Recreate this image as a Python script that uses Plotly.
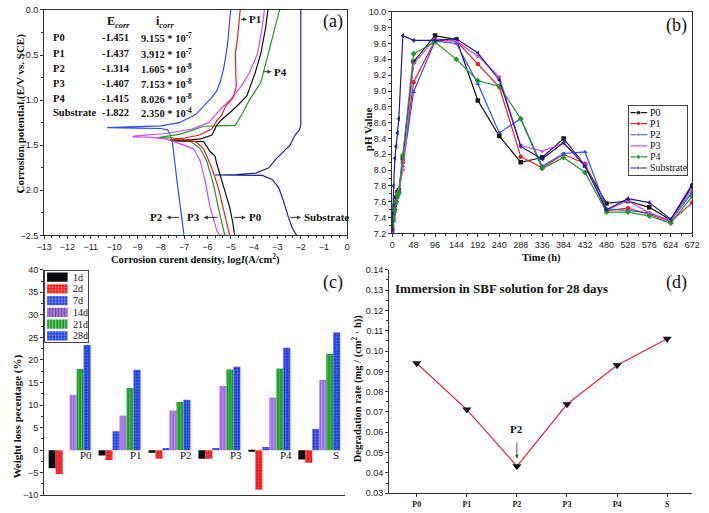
import plotly.graph_objects as go

W, H = 709, 513
SERIF = "Liberation Serif"
SANS = "Liberation Sans"

# ---------------- panel (a): polarization curves (logI, E) ----------------
a_P0_logI = [-3.40, -3.5, -3.71, -3.95, -4.3, -4.7, -5.04, -5.4, -5.6, -5.74, -5.81, -6.3, -6.93, -7.56,
             -6.9, -6.16, -5.88, -5.67, -5.6, -5.46, -5.25, -5.04, -4.90, -4.83]
a_P0_E = [0.0, -0.2, -0.49, -0.7, -0.95, -1.06, -1.14, -1.22, -1.28, -1.35, -1.39, -1.43, -1.445, -1.451,
          -1.455, -1.46, -1.57, -1.62, -1.70, -1.83, -2.01, -2.19, -2.37, -2.5]
a_P1_logI = [-4.59, -4.62, -4.7, -4.8, -4.78, -4.76, -4.9, -5.2, -5.39, -5.6, -5.81, -6.37, -7.0, -7.6,
             -7.0, -6.5, -6.16, -5.81, -5.53, -5.32, -5.11, -5.04]
a_P1_E = [0.0, -0.1, -0.3, -0.49, -0.7, -0.85, -0.98, -1.06, -1.17, -1.23, -1.32, -1.39, -1.42, -1.437,
          -1.44, -1.46, -1.54, -1.75, -1.97, -2.19, -2.41, -2.5]
a_P2_logI = [-5.0, -5.05, -5.12, -5.2, -5.3, -5.45, -5.6, -5.8, -6.1, -6.5, -7.2, -8.0, -9.0, -10.3,
             -9.0, -8.0, -7.7, -7.6, -7.5, -7.4, -7.3, -7.15, -7.0]
a_P2_E = [0.0, -0.15, -0.35, -0.5, -0.65, -0.8, -0.9, -0.97, -1.05, -1.16, -1.25, -1.285, -1.295, -1.305,
          -1.31, -1.315, -1.33, -1.38, -1.46, -1.7, -1.9, -2.2, -2.5]
a_P3_logI = [-3.55, -3.65, -3.85, -4.2, -4.56, -5.07, -5.5, -5.95, -6.65, -7.77, -9.17, -9.2,
             -8.5, -7.8, -7.42, -6.58, -6.30, -6.09, -5.88, -5.60, -5.46]
a_P3_E = [0.0, -0.2, -0.49, -0.7, -0.85, -1.01, -1.12, -1.25, -1.32, -1.37, -1.40, -1.407,
          -1.41, -1.43, -1.46, -1.54, -1.68, -1.90, -2.19, -2.44, -2.5]
a_P4_logI = [-2.90, -3.1, -3.3, -3.5, -3.7, -3.99, -4.2, -4.48, -4.76, -4.8, -5.5, -6.16, -6.6, -7.2, -8.12,
             -7.5, -6.8, -6.30, -6.02, -5.74, -5.53, -5.32, -5.25]
a_P4_E = [0.0, -0.2, -0.4, -0.6, -0.8, -0.92, -1.0, -1.14, -1.26, -1.28, -1.285, -1.29, -1.33, -1.38, -1.415,
          -1.42, -1.44, -1.54, -1.68, -1.93, -2.19, -2.41, -2.5]
a_S_logI = [-1.99, -1.99, -1.99, -2.05, -2.24, -2.45, -2.8, -3.08, -3.36, -3.92, -4.76, -5.67,
            -4.8, -3.64, -3.22, -2.94, -2.73, -2.52, -2.35, -2.17]
a_S_E = [0.0, -1.0, -1.28, -1.33, -1.39, -1.50, -1.59, -1.66, -1.75, -1.81, -1.826, -1.83,
         -1.832, -1.835, -1.88, -1.97, -2.12, -2.30, -2.42, -2.5]

a_table_names = ["P0", "P1", "P2", "P3", "P4", "Substrate"]
a_table_ecorr = ["-1.451", "-1.437", "-1.314", "-1.407", "-1.415", "-1.822"]
a_table_icorr = ["9.155", "3.912", "1.605", "7.153", "8.026", "2.350"]
a_table_exp = ["-7", "-7", "-8", "-8", "-8", "-4"]

# ---------------- panel (b): pH vs time ----------------
b_time = [0, 3, 6, 9, 12, 15, 24, 48, 96, 144, 192, 240, 288, 336, 384, 432, 480, 528, 576, 624, 672]
b_P0 = [7.25, 7.45, 7.55, 7.65, 7.72, 7.75, 8.15, 9.37, 9.70, 9.65, 8.88, 8.43, 8.10, 8.16, 8.40, 8.06, 7.58, 7.61, 7.53, 7.37, 7.80]
b_P1 = [7.25, 7.40, 7.50, 7.60, 7.68, 7.72, 8.10, 9.11, 9.64, 9.63, 9.34, 9.05, 8.17, 8.03, 8.20, 8.08, 7.49, 7.52, 7.44, 7.35, 7.59]
b_P2 = [7.22, 7.35, 7.48, 7.58, 7.66, 7.70, 8.05, 8.99, 9.63, 9.60, 9.09, 8.47, 8.65, 8.05, 8.21, 8.23, 7.51, 7.49, 7.46, 7.36, 7.72]
b_P3 = [7.28, 7.42, 7.52, 7.62, 7.70, 7.74, 8.00, 9.34, 9.66, 9.63, 9.44, 9.18, 8.31, 8.24, 8.34, 8.07, 7.50, 7.61, 7.46, 7.36, 7.76]
b_P4 = [7.30, 7.37, 7.50, 7.60, 7.68, 7.72, 8.19, 9.47, 9.62, 9.40, 9.13, 9.06, 8.65, 8.02, 8.16, 7.97, 7.47, 7.47, 7.42, 7.33, 7.67]
b_S = [7.25, 7.80, 8.15, 8.30, 8.47, 8.65, 9.70, 9.64, 9.64, 9.66, 9.48, 9.14, 8.30, 8.14, 8.35, 8.05, 7.50, 7.64, 7.59, 7.38, 7.82]
b_xticks = list(range(0, 673, 48))

# ---------------- panel (c): weight loss ----------------
c_samples = ["P0", "P1", "P2", "P3", "P4", "S"]
c_1d = [-4.0, -1.2, -0.6, -1.9, -0.15, -2.1]
c_2d = [-5.3, -2.2, -1.9, -1.9, -8.8, -2.8]
c_7d = [0.0, 4.2, 0.5, 0.5, 0.7, 4.7]
c_14d = [12.3, 7.7, 8.8, 14.2, 11.7, 15.6]
c_21d = [18.0, 13.8, 10.7, 17.9, 18.1, 21.4]
c_28d = [23.3, 17.8, 11.2, 18.5, 22.7, 26.1]

# ---------------- panel (d): degradation rate ----------------
d_samples = ["P0", "P1", "P2", "P3", "P4", "S"]
d_rate = [0.0940, 0.0712, 0.0433, 0.0738, 0.0930, 0.1060]


def px(x):
    return x / W


def py(y):
    return 1 - y / H


fig = go.Figure()

col_a = {"P0": "#111111", "P1": "#ee1c24", "P2": "#2f4cf2", "P3": "#c94cf5", "P4": "#1f9a1f", "Substrate": "#22228c"}
for name, xs, ys in [("P2", a_P2_logI, a_P2_E), ("Substrate", a_S_logI, a_S_E), ("P4", a_P4_logI, a_P4_E),
                     ("P0", a_P0_logI, a_P0_E), ("P3", a_P3_logI, a_P3_E), ("P1", a_P1_logI, a_P1_E)]:
    fig.add_trace(go.Scatter(x=xs, y=ys, mode="lines", line=dict(color=col_a[name], width=1.2),
                             xaxis="x", yaxis="y", showlegend=False))

# panel (b)
b_series = [("P0", b_P0, "#111111", "square"), ("P1", b_P1, "#ee1c24", "circle"),
            ("P2", b_P2, "#2a50ff", "triangle-up"), ("P3", b_P3, "#c94cf5", "triangle-down"),
            ("P4", b_P4, "#1f9a1f", "diamond"), ("Substrate", b_S, "#1c1c8c", "triangle-left")]
for name, ys, c, sym in b_series:
    fig.add_trace(go.Scatter(x=b_time, y=ys, name=name, mode="lines+markers", showlegend=False,
                             line=dict(color=c, width=1.2), marker=dict(symbol=sym, size=4.5, color=c),
                             xaxis="x2", yaxis="y2"))

# legend keys for (b), drawn in their own small box axis
for k, (name, ys, c, sym) in enumerate(b_series):
    fig.add_trace(go.Scatter(x=[2, 10, 19], y=[k, k, k], mode="lines+markers", showlegend=False,
                             line=dict(color=c, width=1.2), marker=dict(symbol=sym, size=[0, 4.5, 0], color=c),
                             xaxis="x5", yaxis="y5", hoverinfo="skip"))

# panel (c)
c_series = [("1d", c_1d, "#0a0a0a", "", "#0a0a0a"), ("2d", c_2d, "#f01818", ".", "#ff8a8a"),
            ("7d", c_7d, "#2845d8", ".", "#8fa0ff"), ("14d", c_14d, "#a46ee6", "|", "#d0b0ff"),
            ("21d", c_21d, "#1f9f2a", "|", "#7ad07a"), ("28d", c_28d, "#1f3fe6", ".", "#8ea0ff")]
for name, ys, c, shp, fg in c_series:
    fig.add_trace(go.Bar(x=c_samples, y=ys, name=name, showlegend=False,
                         marker=dict(color=c, line=dict(width=0),
                                     pattern=dict(shape=shp, fgcolor=fg, bgcolor=c, size=3, solidity=0.3)),
                         xaxis="x3", yaxis="y3"))

# legend swatches for (c), one horizontal bar per series in a small box axis
fig.add_trace(go.Bar(y=list(range(len(c_series))), x=[21] * len(c_series), base=[2] * len(c_series),
                     orientation="h", width=0.78, showlegend=False, hoverinfo="skip",
                     marker=dict(color=[s[2] for s in c_series], line=dict(width=0),
                                 pattern=dict(shape=[s[3] for s in c_series], fgcolor=[s[4] for s in c_series],
                                              bgcolor=[s[2] for s in c_series], size=3, solidity=0.3)),
                     xaxis="x6", yaxis="y6"))

# panel (d)
fig.add_trace(go.Scatter(x=d_samples, y=d_rate, mode="lines+markers", showlegend=False,
                         line=dict(color="#e8243c", width=1.2),
                         marker=dict(symbol="triangle-down", size=8, color="#111111"),
                         xaxis="x4", yaxis="y4"))

tickf = dict(family=SANS, size=9, color="#222")
ax_common = dict(showgrid=False, zeroline=False, showline=True, linecolor="#333", linewidth=1,
                 ticks="outside", ticklen=3, tickcolor="#333", tickfont=tickf)
box_ax = dict(showgrid=False, zeroline=False, showline=True, mirror=True, linecolor="#444", linewidth=1,
              ticks="", showticklabels=False, fixedrange=True)

fig.update_layout(
    width=W, height=H, margin=dict(l=0, r=0, t=0, b=0),
    paper_bgcolor="white", plot_bgcolor="white", showlegend=False,
    barmode="group", bargap=0.16, bargroupgap=0,
    xaxis=dict(ax_common, domain=[px(37), px(347)], range=[-13, 0], dtick=1, mirror=True, anchor="y",
               minor=dict(ticks="outside", ticklen=2, dtick=1 / 3, tickcolor="#333")),
    yaxis=dict(ax_common, domain=[py(235), py(5)], range=[-2.5, 0], dtick=0.5, tickformat=".1f", mirror=True, anchor="x",
               minor=dict(ticks="outside", ticklen=2, dtick=0.25, tickcolor="#333")),
    xaxis2=dict(ax_common, domain=[px(393), px(700)], range=[0, 672], tickvals=b_xticks, mirror=True, anchor="y2",
                minor=dict(ticks="outside", ticklen=2, dtick=24, tickcolor="#333")),
    yaxis2=dict(ax_common, domain=[py(233), py(7)], range=[7.2, 10.0], dtick=0.2, tickformat=".1f", mirror=True, anchor="x2",
                minor=dict(ticks="outside", ticklen=2, dtick=0.1, tickcolor="#333")),
    xaxis3=dict(ax_common, domain=[px(37), px(345)], type="category", range=[-0.51, 5.52], showticklabels=False,
                ticks="", anchor="y3"),
    yaxis3=dict(ax_common, domain=[py(500), py(270)], range=[-10, 40], dtick=5, anchor="x3",
                minor=dict(ticks="outside", ticklen=2, dtick=2.5, tickcolor="#333")),
    xaxis4=dict(ax_common, domain=[px(390), px(700)], type="category", range=[-0.55, 5.5], anchor="y4",
                tickfont=dict(family=SERIF, size=8, color="#222", weight="bold")),
    yaxis4=dict(ax_common, domain=[py(498), py(270)], range=[0.03, 0.14], dtick=0.01, tickformat=".2f", anchor="x4",
                minor=dict(ticks="outside", ticklen=2, dtick=0.005, tickcolor="#333")),
    xaxis5=dict(box_ax, domain=[px(635), px(695)], range=[0, 60], anchor="y5"),
    yaxis5=dict(box_ax, domain=[py(173), py(103)], range=[5.6, -0.6], anchor="x5"),
    xaxis6=dict(box_ax, domain=[px(38), px(82)], range=[0, 44], anchor="y6"),
    yaxis6=dict(box_ax, domain=[py(344), py(271)], range=[5.55, -0.55], anchor="x6"),
)

ann = []
bold = dict(family=SERIF, color="#111", weight="bold")


def txt(x, y, s, size=11, xanchor="center", yanchor="middle", angle=0, xref="paper", yref="paper", f=None, yshift=0):
    ann.append(dict(x=x, y=y, xref=xref, yref=yref, text=s, showarrow=False, xanchor=xanchor, yanchor=yanchor,
                    textangle=angle, yshift=yshift, borderpad=0,
                    font=f if f else dict(bold, size=size)))


# axis titles
txt(px(192), py(259), "Corrosion curent density, log<i>I</i>(A/cm<sup>2</sup>)", 10.5)
txt(px(13), py(111), "Corrosion potential (E/V vs. SCE)", 11, angle=-90)
txt(px(546), py(258), "Time (h)", 10.5)
txt(px(368), py(127), "pH Value", 11, angle=-90)
txt(px(10), py(420), "Weight loss pecentage (%)", 11, angle=-90)
txt(px(357), py(391), "Degradation rate (mg / (cm<sup>2</sup> · h))", 10.5, angle=-90)

# panel letters
lf = dict(family=SERIF, size=18, color="#111")
txt(px(332), py(17), "(a)", f=lf)
txt(px(684), py(21), "(b)", f=lf)
txt(px(332), py(283), "(c)", f=lf)
txt(px(684), py(283), "(d)", f=lf)

# table in (a)
txt(px(100), py(17), "E<sub><i>corr</i></sub>", 12, xanchor="left")
txt(px(150), py(17), "i<sub><i>corr</i></sub>", 12, xanchor="left")
row_y = [33, 49, 65, 80, 95, 110]
for nm, e, i, ex, ry in zip(a_table_names, a_table_ecorr, a_table_icorr, a_table_exp, row_y):
    txt(px(45), py(ry), nm, 10.5, xanchor="left")
    txt(px(95), py(ry), e, 10.5, xanchor="left")
    txt(px(135), py(ry), f"{i} * 10<sup>{ex}</sup>", 10.5, xanchor="left")

# curve labels in (a)
af = dict(bold, size=11)


def arrow(x, y, axv, xr="x", yr="y"):
    ann.append(dict(x=x, y=y, ax=axv, ay=y, xref=xr, yref=yr, axref=xr, ayref=yr, text="", showarrow=True,
                    arrowhead=2, arrowsize=0.8, arrowwidth=1, arrowcolor="#333", standoff=0, startstandoff=0))


arrow(-4.3, -0.105, -4.62); txt(-4.25, -0.105, "P1", xanchor="left", xref="x", yref="y", f=af)
arrow(-3.25, -0.685, -3.66); txt(-3.2, -0.685, "P4", xanchor="left", xref="x", yref="y", f=af)
arrow(-7.75, -2.30, -7.15); txt(-7.85, -2.30, "P2", xanchor="right", xref="x", yref="y", f=af)
arrow(-6.15, -2.30, -5.5); txt(-6.25, -2.30, "P3", xanchor="right", xref="x", yref="y", f=af)
arrow(-4.35, -2.30, -4.92); txt(-4.25, -2.30, "P0", xanchor="left", xref="x", yref="y", f=af)
arrow(-1.98, -2.30, -2.5); txt(-1.88, -2.30, "Substrate", xanchor="left", xref="x", yref="y", f=af)

# legend texts
for k, s in enumerate(b_series):
    txt(21, k, s[0], xanchor="left", xref="x5", yref="y5", f=dict(family=SERIF, size=10, color="#111"))
for k, s in enumerate(c_series):
    txt(27, k, s[0], xanchor="left", xref="x6", yref="y6", f=dict(family=SERIF, size=10, color="#111"))

# category labels in (c) at the zero line
for k, s in enumerate(c_samples):
    txt(k + 0.33, 0, s, xref="x3", yref="y3", yanchor="top", yshift=2, f=dict(family=SERIF, size=11, color="#111"))

# (d) annotations
txt(px(395), py(289), "Immersion in SBF solution for 28 days", 13, xanchor="left")
ann.append(dict(x=2, y=0.047, ax=2, ay=0.0557, xref="x4", yref="y4", axref="x4", ayref="y4", text="",
                showarrow=True, arrowhead=2, arrowsize=0.8, arrowwidth=1, arrowcolor="#555"))
txt(2, 0.0615, "P2", xref="x4", yref="y4", f=dict(bold, size=11))

fig.update_layout(annotations=ann)
fig.write_html("out.html", config={"displayModeBar": False},
               post_script="document.body.style.margin='0';document.body.style.padding='0';")
